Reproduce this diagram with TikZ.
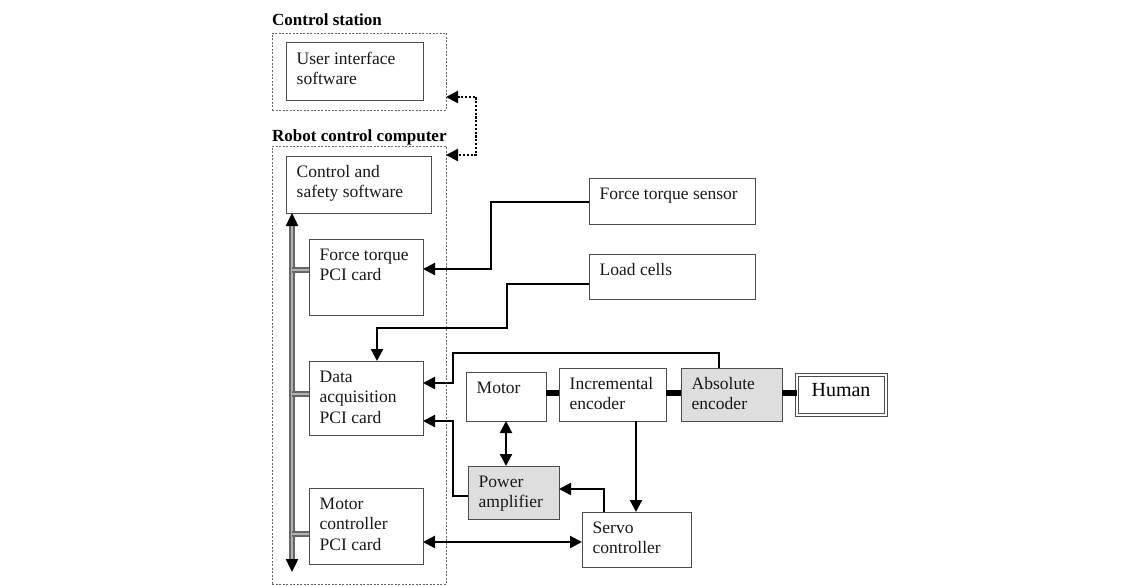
\documentclass[tikz,border=0pt]{standalone}
\usepackage{fontspec}
\setmainfont{Liberation Serif}
\usetikzlibrary{arrows.meta,fit,calc}
\newcommand\mkbox[7][box]{%
  \node[#1, fit={(#3,#4)(#5,#6)}] (#2) {};
  \node[txt] (#2-t) at ($(#2.north west)+(10.5,21)$) {\begin{tabular}[t]{@{}l@{}}#7\end{tabular}};
}
\begin{document}
\begin{tikzpicture}[x=1pt,y=-1pt,
  box/.style={draw=black!70, line width=1pt, inner sep=0pt, outer sep=0pt},
  graybox/.style={box, fill=black!13},
  txt/.style={anchor=base west, inner sep=0pt, font=\fontsize{17.5}{20.5}\selectfont, text=black!90},
  titletxt/.style={anchor=base west, inner sep=0pt, font=\fontsize{17}{20}\selectfont\bfseries},
  group/.style={draw=black!60, line width=0.8pt, dash pattern=on 2pt off 1.5pt, inner sep=0pt, outer sep=0pt},
  conn/.style={line width=2.2pt, black},
  tipa/.style={-{Triangle[length=12pt,width=12pt]}},
  tipb/.style={{Triangle[length=12pt,width=12pt]}-{Triangle[length=12pt,width=12pt]}},
  dotc/.style={line width=2.6pt, black, dash pattern=on 2.2pt off 1.6pt},
  bar/.style={line width=6pt, black},
  busl/.style={draw=black!60, line width=1.4pt, double=black!30, double distance=2.4pt},
]
\useasboundingbox (0,0) rectangle (1143,586);
\fill[white] (0,0) rectangle (1143,586);

% group boxes and titles
\node[group, fit={(272,33)(446,110)}] (cs) {};
\node[group, fit={(272,146)(446,584)}] (rc) {};
\node[titletxt] (cs-title) at (272,26) {Control station};
\node[titletxt] (rc-title) at (272,141) {Robot control computer};

% boxes
\mkbox{ui}{286}{43}{423}{100}{User interface\\software}
\mkbox{css}{286}{156}{431}{213}{Control and\\safety software}
\mkbox{ftp}{309}{239}{423}{315}{Force torque\\PCI card}
\mkbox{daq}{309}{361}{423}{435}{Data\\acquisition\\PCI card}
\mkbox{mc}{309}{488}{423}{564}{Motor\\controller\\PCI card}
\mkbox{fts}{589}{178}{755}{224}{Force torque sensor}
\mkbox{lc}{589}{254}{755}{299}{Load cells}
\mkbox{motor}{466}{372}{546}{421}{Motor}
\mkbox{inc}{559}{368}{666}{421}{Incremental\\encoder}
\mkbox[graybox]{abs}{681}{368}{782}{421}{Absolute\\encoder}
\mkbox[graybox]{pa}{468}{466}{559}{519}{Power\\amplifier}
\mkbox{servo}{582}{512}{691}{567}{Servo\\controller}

% human
\node[fit={(796.5,374.5)(885.5,414.5)}, draw=black!70, line width=1pt, double, double distance=2pt, inner sep=0pt, outer sep=0pt] (human) {};
\node[anchor=base, inner sep=0pt, font=\fontsize{20}{24}\selectfont] (human-t) at ($(human.center)+(0,1.5)$) {Human};

% dotted link between stations
\draw[dotc, tipb] (cs.east |- 0,97) -- (476,97) -- (476,155) -- (rc.east |- 0,155);

% bus
\coordinate (busend) at (292,572);
\draw[busl] (292,224) -- (292,562);
\draw[draw=black!30, line width=2.4pt, {Triangle[length=13pt,width=12pt,color=black]}-{Triangle[length=13pt,width=12pt,color=black]}] (css.south -| 292,0) -- (busend);
\draw[busl] (292,270) -- (ftp.west |- 0,270);
\draw[busl] (292,394) -- (daq.west |- 0,394);
\draw[busl] (292,534) -- (mc.west |- 0,534);

% connectors
\draw[conn, tipa] (fts.west |- 0,202) -- (491,202) -- (491,269) -- (ftp.east |- 0,269);
\draw[conn, tipa] (lc.west |- 0,284) -- (507,284) -- (507,328) -- (377,328) -- (daq.north -| 377,0);
\draw[conn, tipa] (abs.north -| 719,0) -- (719,353) -- (453,353) -- (453,383) -- (daq.east |- 0,383);
\draw[conn, tipa] (pa.west |- 0,496) -- (453,496) -- (453,421) -- (daq.east |- 0,421);
\draw[conn, tipb] (motor.south) -- (motor.south |- pa.north);
\draw[conn, tipa] (inc.south -| 636,0) -- (servo.north -| 636,0);
\draw[conn, tipa] (servo.north -| 604,0) -- (604,489) -- (pa.east |- 0,489);
\draw[conn, tipb] (mc.east |- 0,542) -- (servo.west |- 0,542);

% mechanical couplings
\draw[bar] (motor.east |- 0,393) -- (inc.west |- 0,393);
\draw[bar] (inc.east |- 0,393) -- (abs.west |- 0,393);
\draw[bar] (abs.east |- 0,393) -- (human.west |- 0,393);
\end{tikzpicture}
\end{document}
